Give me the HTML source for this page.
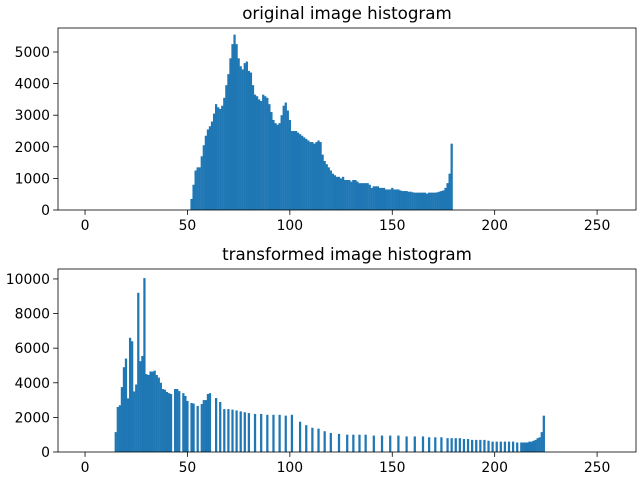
<!DOCTYPE html>
<html><head><meta charset="utf-8"><style>
body{margin:0;background:#fff;font-family:"Liberation Sans","DejaVu Sans",sans-serif}
svg text{font-family:"DejaVu Sans","Liberation Sans",sans-serif}
</style></head><body>
<svg id="c" width="640" height="480" xmlns="http://www.w3.org/2000/svg">
<rect width="640" height="480" fill="#fff"/>
</svg>
<script>
const topBins = [52,53,54,55,56,57,58,59,60,61,62,63,64,65,66,67,68,69,70,71,72,73,74,75,76,77,78,79,80,81,82,83,84,85,86,87,88,89,90,91,92,93,94,95,96,97,98,99,100,101,102,103,104,105,106,107,108,109,110,111,112,113,114,115,116,117,118,119,120,121,122,123,124,125,126,127,128,129,130,131,132,133,134,135,136,137,138,139,140,141,142,143,144,145,146,147,148,149,150,151,152,153,154,155,156,157,158,159,160,161,162,163,164,165,166,167,168,169,170,171,172,173,174,175,176,177,178,179];
const topCounts = [350,800,1250,1350,1350,1700,2050,2350,2550,2650,2800,3050,3350,3250,3200,3300,3550,3950,4300,4800,5250,5550,5250,4800,4550,4450,4650,4700,4400,4350,3950,3650,3600,3500,3450,3650,3600,3550,3350,3100,2850,2750,2700,2750,3000,3300,3400,3150,2850,2500,2500,2500,2450,2400,2350,2300,2250,2200,2150,2150,2100,2150,2200,2150,1750,1550,1450,1350,1250,1150,1100,1050,1050,1000,1050,950,950,950,900,950,950,900,850,850,850,850,850,800,700,750,750,750,700,700,700,650,650,650,700,650,650,650,620,600,600,600,580,580,560,550,550,550,550,550,550,520,550,550,550,550,560,580,600,620,700,850,1150,2100];
const botBins = [15,16,17,18,19,20,21,22,23,24,25,26,27,28,29,30,31,32,33,34,35,36,37,38,39,40,41,42,44,45,46,48,49,50,52,53,55,57,58,59,60,61,64,66,68,70,72,74,76,78,80,83,86,89,92,95,98,101,105,108,111,114,117,120,124,128,131,134,137,141,145,149,153,157,161,165,168,171,174,177,179,181,183,185,187,189,191,193,195,197,199,201,203,205,207,209,211,213,214,215,216,217,218,219,220,221,222,223,224];
const botCounts = [1150,2600,2700,3750,4900,5400,3100,6600,6400,3500,3900,9200,5250,5550,10050,4500,4450,4650,4650,4700,4450,4300,4000,3640,3600,3470,3400,3350,3640,3640,3520,3400,3240,2950,2830,2800,2660,2770,3000,3000,3350,3400,3120,2890,2480,2480,2450,2400,2350,2300,2250,2200,2200,2150,2150,2150,2100,2150,1750,1550,1400,1350,1200,1100,1050,1000,1000,1000,1000,950,950,950,950,900,900,900,850,850,850,800,800,800,800,750,750,700,700,700,700,650,600,600,600,600,600,600,550,550,550,550,550,600,600,650,700,800,850,1150,2100];
const xTicks = [0,50,100,150,200,250];
const topYTicks = [0,1000,2000,3000,4000,5000];
const botYTicks = [0,2000,4000,6000,8000,10000];

const NS="http://www.w3.org/2000/svg";
const svg=document.getElementById('c');
const XMIN=-13.2, XMAX=269, L=58, R=636;
function xs(v){return L+(v-XMIN)/(XMAX-XMIN)*(R-L);}
function mk(tag,attrs,parent){const e=document.createElementNS(NS,tag);for(const k in attrs)e.setAttribute(k,attrs[k]);(parent||svg).appendChild(e);return e;}

function panel(name,top,bot,ymax,bins,counts,yticks,title){
  const g=mk('g',{});
  
  
  const ys=v=>bot-v/ymax*(bot-top);
  for(let i=0;i<bins.length;i++){
    const x0=xs(bins[i]-0.55), x1=xs(bins[i]+0.55);
    const r=mk('rect',{x:x0,y:ys(counts[i]),width:x1-x0,height:bot-ys(counts[i]),fill:'#1f77b4'},g);
    
    
  }
  const f=mk('rect',{x:L,y:top,width:R-L,height:bot-top,fill:'none',stroke:'#000','stroke-width':0.8},g);
  
  
  for(const t of xTicks){
    const x=xs(t);
    mk('line',{x1:x,x2:x,y1:bot,y2:bot+4.9,stroke:'#000','stroke-width':0.8},g);
    const tx=mk('text',{x:x,y:bot+20,'font-size':13.9,'text-anchor':'middle',fill:'#000'},g);
    tx.textContent=t;
    
    
  }
  for(const t of yticks){
    const y=ys(t);
    mk('line',{x1:L-4.9,x2:L,y1:y,y2:y,stroke:'#000','stroke-width':0.8},g);
    const tx=mk('text',{x:L-8,y:y+5,'font-size':13.9,'text-anchor':'end',fill:'#000'},g);
    tx.textContent=t;
    
    
  }
  const tt=mk('text',{x:(L+R)/2,y:top-9,'font-size':16.7,'text-anchor':'middle',fill:'#000'},g);
  tt.textContent=title;
  
  
}
panel('original-histogram',28,210,5760,topBins,topCounts,topYTicks,'original image histogram');
panel('transformed-histogram',269,452,10575,botBins,botCounts,botYTicks,'transformed image histogram');
</script>
</body></html>
